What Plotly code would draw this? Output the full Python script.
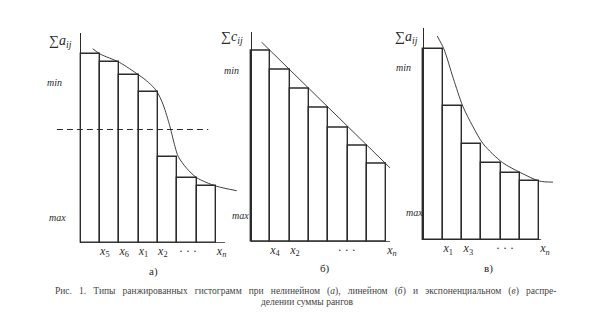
import numpy as np
import plotly.graph_objects as go

W, H = 589, 319

# ---------------- data ----------------
# panel а) nonlinear
a_vals = [90, 86, 80, 72, 41, 31, 27]
a_curve_x = [0.62, 1.0, 2.0, 3.0, 3.5, 3.93, 4.27, 4.62, 4.88, 5.05, 5.48, 6.0, 7.0, 8.07]
a_curve_y = [92.5, 90, 86, 80, 76.5, 72.3, 65.7, 55.3, 45.8, 41, 35.5, 31, 27, 24.8]
a_threshold = 54
a_threshold_span = [-1.23, 6.6]
a_ticks = ["<i>x</i><sub>5</sub>", "<i>x</i><sub>6</sub>", "<i>x</i><sub>1</sub>",
           "<i>x</i><sub>2</sub>", "· · ·", "<i>x<sub>n</sub></i>"]
a_tick_pos = [1.25, 2.25, 3.25, 4.25, 5.55, 7.29]

# panel б) linear
b_vals = [91, 82, 73, 64, 54.5, 45.5, 37]
b_line_x = [0.55, 7.2]
b_line_y = [95, 35.2]
b_ticks = ["<i>x</i><sub>4</sub>", "<i>x</i><sub>2</sub>", "· · ·", "<i>x<sub>n</sub></i>"]
b_tick_pos = [1.24, 2.28, 4.96, 7.3]

# panel в) exponential
c_vals = [90, 63.2, 45.3, 36.5, 31.7, 27.8]
c_curve_x = [0.72, 1.07, 1.55, 2.04, 2.55, 3.1, 4.1, 5.05, 6.0, 6.71]
c_curve_y = [96.2, 90, 76.3, 63.2, 53.8, 45.3, 36.5, 31.7, 27.8, 27.3]
c_ticks = ["<i>x</i><sub>1</sub>", "<i>x</i><sub>3</sub>", "· · ·", "<i>x<sub>n</sub></i>"]
c_tick_pos = [1.29, 2.33, 4.23, 6.29]

caption1_words = ["Рис.", "1.", "Типы", "ранжированных", "гистограмм", "при", "нелинейном",
                  "(<i>а</i>),", "линейном", "(<i>б</i>)", "и", "экспоненциальном",
                  "(<i>в</i>)", "распре-"]
caption2 = "делении суммы рангов"

INK = "#2b2b2b"
SERIF = "Liberation Serif, DejaVu Serif, serif"

# justified first caption line: widen each word gap
caption1 = (" " + "\u00a0\u00a0").join(caption1_words)

# ---------------- geometry (pixels) ----------------
panels = [
    dict(vals=a_vals, x0=80.7, bw=19.33, base=242.7, top=33.0, dl=55, dr=240, bend=7.47,
         ticks=a_ticks, tpos=a_tick_pos, sigma="∑<i>a<sub>ij</sub></i>", sig=(60, 41),
         mn=(54, 82), mx=(57, 217), cap="а)", capxy=(153, 271)),
    dict(vals=b_vals, x0=251.0, bw=19.3, base=241.7, top=31.7, dl=240, dr=397, bend=7.2,
         ticks=b_ticks, tpos=b_tick_pos, sigma="∑<i>c<sub>ij</sub></i>", sig=(232, 38),
         mn=(231, 70), mx=(240, 215), cap="б)", capxy=(325, 268)),
    dict(vals=c_vals, x0=423.3, bw=19.33, base=240.0, top=28.0, dl=415, dr=562, bend=6.1,
         ticks=c_ticks, tpos=c_tick_pos, sigma="∑<i>a<sub>ij</sub></i>", sig=(406, 38),
         mn=(403, 67), mx=(414, 212), cap="в)", capxy=(488, 268)),
]

fig = go.Figure()
shapes = []
annotations = []

def px(x):
    return x / W

def py(y):
    return 1 - y / H

def label(text, xy, size, color=INK):
    return dict(text=text, x=px(xy[0]), y=py(xy[1]), xref="paper", yref="paper",
                xanchor="center", yanchor="middle", showarrow=False,
                font=dict(family=SERIF, size=size, color=color))

for i, p in enumerate(panels):
    k = "" if i == 0 else str(i + 1)
    xa, ya = "x" + k, "y" + k
    n = len(p["vals"])
    centers = np.arange(n) + 0.5
    fig.add_trace(go.Bar(x=centers, y=p["vals"], width=1.0, xaxis=xa, yaxis=ya,
                         marker=dict(color="rgba(255,255,255,0)", line=dict(color=INK, width=1.4)),
                         showlegend=False, hoverinfo="skip"))
    xr = [(p["dl"] - p["x0"]) / p["bw"], (p["dr"] - p["x0"]) / p["bw"]]
    fig.update_layout(**{
        "xaxis" + k: dict(domain=[px(p["dl"]), px(p["dr"])], range=xr, anchor=ya,
                          showgrid=False, zeroline=True, zerolinecolor=INK, zerolinewidth=1.3,
                          showline=False, ticks="", tickvals=p["tpos"], ticktext=p["ticks"],
                          ticklabelstandoff=-1,
                          tickfont=dict(family=SERIF, size=12, color=INK), fixedrange=True),
        "yaxis" + k: dict(domain=[py(p["base"]), py(p["top"])], range=[0, 100], anchor=xa,
                          showgrid=False, zeroline=False, showline=False,
                          showticklabels=False, ticks="", fixedrange=True),
    })
    shapes.append(dict(type="line", xref=xa, yref=ya, x0=0, x1=p["bend"], y0=0, y1=0,
                       line=dict(color=INK, width=1.3)))
    annotations += [
        label(p["sigma"], p["sig"], 14),
        label("<i>min</i>", p["mn"], 10),
        label("<i>max</i>", p["mx"], 10),
        label(p["cap"], p["capxy"], 11),
    ]

fig.add_trace(go.Scatter(x=a_curve_x, y=a_curve_y, mode="lines", xaxis="x", yaxis="y",
                         line=dict(color=INK, width=0.9, shape="spline", smoothing=0.8),
                         showlegend=False, hoverinfo="skip"))
fig.add_trace(go.Scatter(x=a_threshold_span, y=[a_threshold, a_threshold], mode="lines",
                         xaxis="x", yaxis="y", line=dict(color=INK, width=1.1, dash="6px,4px"),
                         showlegend=False, hoverinfo="skip"))
fig.add_trace(go.Scatter(x=b_line_x, y=b_line_y, mode="lines", xaxis="x2", yaxis="y2",
                         line=dict(color=INK, width=0.9), showlegend=False, hoverinfo="skip"))
fig.add_trace(go.Scatter(x=c_curve_x, y=c_curve_y, mode="lines", xaxis="x3", yaxis="y3",
                         line=dict(color=INK, width=0.9, shape="spline", smoothing=0.8),
                         showlegend=False, hoverinfo="skip"))

annotations += [
    label(caption1, (305, 291), 9.5, "#444"),
    label(caption2, (307, 302), 9.5, "#444"),
]

fig.update_layout(width=W, height=H, margin=dict(l=0, r=0, t=0, b=0),
                  paper_bgcolor="white", plot_bgcolor="rgba(0,0,0,0)",
                  shapes=shapes, annotations=annotations, bargap=0)

fig.write_html("out.html")
